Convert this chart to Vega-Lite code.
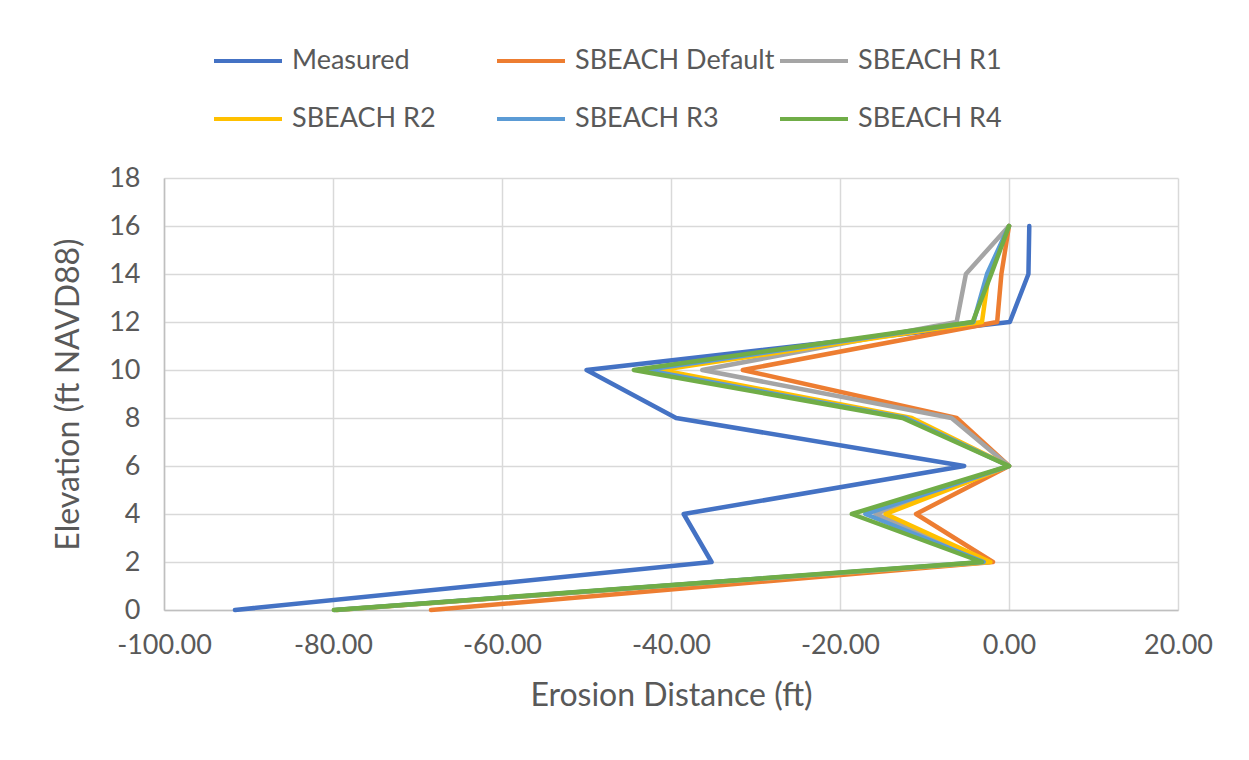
{
  "$schema": "https://vega.github.io/schema/vega-lite/v6.json",
  "width": 1014,
  "height": 432,
  "autosize": {"type": "none"},
  "padding": {"left": 164, "top": 178, "right": 71, "bottom": 150},
  "background": "white",
  "data": {
    "values": [
      {"series": "Measured", "elev": 16, "dist": 2.4},
      {"series": "Measured", "elev": 14, "dist": 2.3},
      {"series": "Measured", "elev": 12, "dist": 0.1},
      {"series": "Measured", "elev": 10, "dist": -50.0},
      {"series": "Measured", "elev": 8, "dist": -39.4},
      {"series": "Measured", "elev": 6, "dist": -5.3},
      {"series": "Measured", "elev": 4, "dist": -38.5},
      {"series": "Measured", "elev": 2, "dist": -35.2},
      {"series": "Measured", "elev": 0, "dist": -91.6},
      {"series": "SBEACH Default", "elev": 16, "dist": 0.0},
      {"series": "SBEACH Default", "elev": 14, "dist": -0.9},
      {"series": "SBEACH Default", "elev": 12, "dist": -1.4},
      {"series": "SBEACH Default", "elev": 10, "dist": -31.5},
      {"series": "SBEACH Default", "elev": 8, "dist": -6.2},
      {"series": "SBEACH Default", "elev": 6, "dist": 0.0},
      {"series": "SBEACH Default", "elev": 4, "dist": -11.0},
      {"series": "SBEACH Default", "elev": 2, "dist": -1.9},
      {"series": "SBEACH Default", "elev": 0, "dist": -68.4},
      {"series": "SBEACH R1", "elev": 16, "dist": 0.0},
      {"series": "SBEACH R1", "elev": 14, "dist": -5.1},
      {"series": "SBEACH R1", "elev": 12, "dist": -6.2},
      {"series": "SBEACH R1", "elev": 10, "dist": -36.3},
      {"series": "SBEACH R1", "elev": 8, "dist": -6.8},
      {"series": "SBEACH R1", "elev": 6, "dist": 0.0},
      {"series": "SBEACH R1", "elev": 4, "dist": -15.8},
      {"series": "SBEACH R1", "elev": 2, "dist": -2.3},
      {"series": "SBEACH R1", "elev": 0, "dist": -79.5},
      {"series": "SBEACH R2", "elev": 16, "dist": 0.0},
      {"series": "SBEACH R2", "elev": 14, "dist": -2.4},
      {"series": "SBEACH R2", "elev": 12, "dist": -3.2},
      {"series": "SBEACH R2", "elev": 10, "dist": -41.2},
      {"series": "SBEACH R2", "elev": 8, "dist": -11.5},
      {"series": "SBEACH R2", "elev": 6, "dist": 0.0},
      {"series": "SBEACH R2", "elev": 4, "dist": -14.6},
      {"series": "SBEACH R2", "elev": 2, "dist": -2.2},
      {"series": "SBEACH R2", "elev": 0, "dist": -79.6},
      {"series": "SBEACH R3", "elev": 16, "dist": 0.0},
      {"series": "SBEACH R3", "elev": 14, "dist": -2.6},
      {"series": "SBEACH R3", "elev": 12, "dist": -4.2},
      {"series": "SBEACH R3", "elev": 10, "dist": -43.0},
      {"series": "SBEACH R3", "elev": 8, "dist": -12.2},
      {"series": "SBEACH R3", "elev": 6, "dist": 0.0},
      {"series": "SBEACH R3", "elev": 4, "dist": -17.0},
      {"series": "SBEACH R3", "elev": 2, "dist": -3.0},
      {"series": "SBEACH R3", "elev": 0, "dist": -79.8},
      {"series": "SBEACH R4", "elev": 16, "dist": 0.0},
      {"series": "SBEACH R4", "elev": 14, "dist": -2.1},
      {"series": "SBEACH R4", "elev": 12, "dist": -4.3},
      {"series": "SBEACH R4", "elev": 10, "dist": -44.4},
      {"series": "SBEACH R4", "elev": 8, "dist": -12.6},
      {"series": "SBEACH R4", "elev": 6, "dist": 0.0},
      {"series": "SBEACH R4", "elev": 4, "dist": -18.6},
      {"series": "SBEACH R4", "elev": 2, "dist": -3.2},
      {"series": "SBEACH R4", "elev": 0, "dist": -79.9}
    ]
  },
  "mark": {"type": "line", "strokeWidth": 4.5, "strokeJoin": "round", "strokeCap": "round"},
  "encoding": {
    "x": {
      "field": "dist",
      "type": "quantitative",
      "scale": {"domain": [-100, 20], "nice": false, "zero": false},
      "axis": {
        "title": "Erosion Distance (ft)",
        "values": [-100, -80, -60, -40, -20, 0, 20],
        "labelExpr": "replace(format(datum.value, '.2f'), '\u2212', '-')",
        "labelFlush": false,
        "labelPadding": 22,
        "titlePadding": 22
      }
    },
    "y": {
      "field": "elev",
      "type": "quantitative",
      "scale": {"domain": [0, 18], "nice": false},
      "axis": {
        "title": "Elevation (ft NAVD88)",
        "values": [0, 2, 4, 6, 8, 10, 12, 14, 16, 18],
        "labelFlush": false,
        "labelPadding": 24,
        "titlePadding": 23
      }
    },
    "order": {"field": "elev", "type": "quantitative", "sort": "descending"},
    "color": {
      "field": "series",
      "type": "nominal",
      "scale": {
        "domain": ["Measured", "SBEACH Default", "SBEACH R1", "SBEACH R2", "SBEACH R3", "SBEACH R4"],
        "range": ["#4472C4", "#ED7D31", "#A5A5A5", "#FFC000", "#5B9BD5", "#70AD47"]
      },
      "legend": {
        "title": null,
        "orient": "none",
        "legendX": 48,
        "legendY": -153,
        "direction": "horizontal",
        "columns": 3,
        "gridAlign": "all",
        "columnPadding": -3,
        "rowPadding": 9,
        "symbolType": "stroke",
        "symbolSize": 4624,
        "symbolStrokeWidth": 4,
        "labelOffset": 8
      }
    }
  },
  "config": {
    "font": "Lato",
    "view": {"stroke": null},
    "axis": {
      "labelFont": "Lato",
      "labelFontSize": 27,
      "labelColor": "#595959",
      "titleFont": "Lato",
      "titleFontSize": 32,
      "titleFontWeight": "normal",
      "titleColor": "#595959",
      "gridColor": "#D9D9D9",
      "gridWidth": 1.5,
      "domainColor": "#BFBFBF",
      "domainWidth": 1.5,
      "ticks": false
    },
    "legend": {
      "labelFont": "Lato",
      "labelFontSize": 27,
      "labelColor": "#595959",
      "labelLimit": 400
    }
  }
}
